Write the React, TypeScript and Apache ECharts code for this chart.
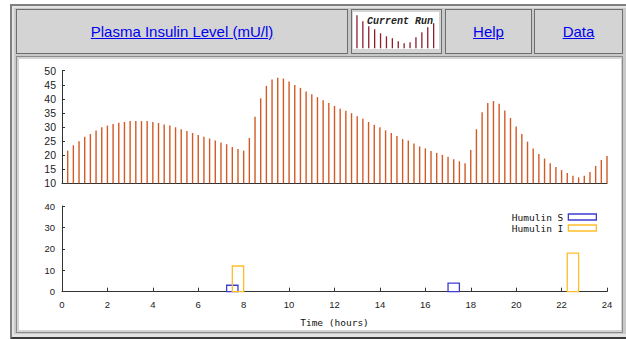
import React, { useEffect, useRef } from "react";
import * as echarts from "echarts";

// Plasma insulin level (mU/l), sampled every 15 minutes from 0:15 to 24:00
const STEP_HOURS = 0.25;
const insulinLevel = [
  21.6, 23.5, 24.9, 26.5, 27.5, 28.8, 29.9, 30.5, 31.1, 31.5,
  31.8, 32.1, 32.1, 32.1, 32.1, 31.8, 31.4, 30.9, 30.5, 29.9,
  29.2, 28.6, 27.9, 27.2, 26.5, 25.9, 25.2, 24.5, 23.9, 22.9,
  22.2, 21.6, 26.1, 33.6, 40.2, 44.6, 46.9, 47.5, 47.2, 46.2,
  44.9, 43.9, 42.6, 41.6, 40.6, 39.5, 38.5, 37.5, 36.5, 35.8,
  34.9, 33.8, 32.9, 31.8, 30.8, 29.9, 28.8, 27.9, 26.8, 25.7,
  25.2, 24.1, 23.1, 22.4, 21.5, 20.8, 20.1, 19.4, 18.5, 17.8,
  17.1, 21.8, 29.2, 35.2, 38.5, 39.2, 38.3, 35.9, 33.2, 30.2,
  27.5, 24.8, 22.4, 20.4, 18.8, 17.1, 15.8, 14.7, 13.7, 12.7,
  12.1, 12.7, 14.0, 16.2, 18.3, 19.7,
];

// Insulin doses: [time (hours), units]
const humulinS = [
  [7.5, 3],
  [17.25, 4],
];
const humulinI = [
  [7.75, 12],
  [22.5, 18],
];
const DOSE_WIDTH = 0.5;

const doseNames = ["Humulin S", "Humulin I"];
const headerTitle = "Plasma Insulin Level (mU/l)";
const headerLinks = ["Help", "Data"];
const xAxisName = "Time (hours)";
const thumbTitle = "Current Run";
const thumbBars = [33, 27, 22, 19, 15, 12, 10, 7, 5, 6, 11, 16, 21, 25];

const BLUE = "#3c3cd2";
const YELLOW = "#ffbe28";
const BAR = "#d25a26";
const AXIS = "#333333";
const SANS = "'Liberation Sans', Arial, sans-serif";
const MONO = "'DejaVu Sans Mono', 'Liberation Mono', monospace";

function doseRenderer(color: string) {
  return (_params: any, api: any) => {
    const t = api.value(0);
    const d = api.value(1);
    const a = api.coord([t - DOSE_WIDTH / 2, 0]);
    const b = api.coord([t + DOSE_WIDTH / 2, d]);
    return {
      type: "rect",
      shape: { x: a[0], y: b[1], width: b[0] - a[0], height: a[1] - b[1] },
      style: { fill: "none", stroke: color, lineWidth: 1.3 },
    };
  };
}

function MainChart() {
  const ref = useRef<HTMLDivElement>(null);
  useEffect(() => {
    if (!ref.current) return;
    const chart = echarts.init(ref.current, null, { renderer: "svg" });
    const levelData = insulinLevel.map((v, i) => [(i + 1) * STEP_HOURS, v]);
    chart.setOption({
      animation: false,
      backgroundColor: "#ffffff",
      grid: [
        { left: 43, top: 11.7, width: 545, height: 112.6 },
        { left: 43, top: 147, width: 545, height: 85.7 },
      ],
      xAxis: [
        {
          type: "value",
          gridIndex: 0,
          min: 0,
          max: 24,
          interval: 2,
          axisLine: { lineStyle: { color: AXIS, width: 1 } },
          axisTick: { show: false },
          axisLabel: { show: false },
          splitLine: { show: false },
        },
        {
          type: "value",
          gridIndex: 1,
          min: 0,
          max: 24,
          interval: 2,
          axisLine: { onZero: false, lineStyle: { color: AXIS, width: 1 } },
          axisTick: { inside: true, length: 4, lineStyle: { color: AXIS } },
          axisLabel: { margin: 8, fontFamily: SANS, fontSize: 9.5, color: "#222" },
          splitLine: { show: false },
          name: xAxisName,
          nameLocation: "middle",
          nameGap: 26,
          nameTextStyle: { fontFamily: MONO, fontSize: 9.5, color: "#111" },
        },
      ],
      yAxis: [
        {
          type: "value",
          gridIndex: 0,
          min: 10,
          max: 50,
          interval: 5,
          axisLine: { show: true, lineStyle: { color: AXIS, width: 1 } },
          axisTick: { show: true, inside: true, length: 3, lineStyle: { color: AXIS } },
          axisLabel: { margin: 6, fontFamily: SANS, fontSize: 10.5, color: "#222" },
          splitLine: { show: false },
        },
        {
          type: "value",
          gridIndex: 1,
          min: 0,
          max: 40,
          interval: 10,
          axisLine: { show: true, lineStyle: { color: AXIS, width: 1 } },
          axisTick: { show: true, inside: true, length: 3, lineStyle: { color: AXIS } },
          axisLabel: { margin: 7, fontFamily: SANS, fontSize: 9.5, color: "#222" },
          splitLine: { show: false },
        },
      ],
      legend: {
        orient: "vertical",
        align: "right",
        right: 19,
        top: 148,
        itemWidth: 28,
        itemHeight: 6,
        itemGap: 1,
        textStyle: { fontFamily: MONO, fontSize: 9.5, color: "#111" },
        data: [
          {
            name: doseNames[0],
            icon: "rect",
            itemStyle: { color: "rgba(0,0,0,0)", borderColor: BLUE, borderWidth: 1.3 },
          },
          {
            name: doseNames[1],
            icon: "rect",
            itemStyle: { color: "rgba(0,0,0,0)", borderColor: YELLOW, borderWidth: 1.3 },
          },
        ],
      },
      series: [
        {
          type: "bar",
          xAxisIndex: 0,
          yAxisIndex: 0,
          data: levelData,
          barWidth: 1.4,
          itemStyle: { color: BAR },
        },
        {
          type: "custom",
          name: doseNames[0],
          xAxisIndex: 1,
          yAxisIndex: 1,
          data: humulinS,
          encode: { x: 0, y: 1 },
          itemStyle: { color: BLUE },
          renderItem: doseRenderer(BLUE),
        },
        {
          type: "custom",
          name: doseNames[1],
          xAxisIndex: 1,
          yAxisIndex: 1,
          data: humulinI,
          encode: { x: 0, y: 1 },
          itemStyle: { color: YELLOW },
          renderItem: doseRenderer(YELLOW),
        },
      ],
    });
    return () => chart.dispose();
  }, []);
  return (
    <div
      ref={ref}
      style={{ position: "absolute", left: 19, top: 59, width: 602, height: 271, background: "#fff" }}
    />
  );
}

function ThumbChart() {
  const ref = useRef<HTMLDivElement>(null);
  useEffect(() => {
    if (!ref.current) return;
    const chart = echarts.init(ref.current, null, { renderer: "svg" });
    chart.setOption({
      animation: false,
      backgroundColor: "#ffffff",
      title: {
        text: thumbTitle,
        left: 14,
        top: 4,
        padding: 0,
        textStyle: {
          fontFamily: "'Liberation Mono', 'Courier New', monospace",
          fontSize: 10,
          fontWeight: "bold",
          fontStyle: "italic",
          color: "#222",
        },
      },
      grid: { left: 1, top: 0, width: 82.6, height: 36.3 },
      xAxis: {
        type: "category",
        data: thumbBars.map((_, i) => String(i)),
        show: false,
      },
      yAxis: { type: "value", min: 0, max: 36.3, show: false },
      series: [
        {
          type: "bar",
          data: thumbBars,
          barWidth: 1.3,
          itemStyle: { color: "#8c1e2e" },
        },
      ],
    });
    return () => chart.dispose();
  }, []);
  return (
    <div
      ref={ref}
      style={{ position: "absolute", left: 353, top: 12, width: 86, height: 37, background: "#fff" }}
    />
  );
}

const cellBase: React.CSSProperties = {
  position: "absolute",
  boxSizing: "border-box",
  top: 9,
  height: 45,
  border: "1px solid #6e6e6e",
  background: "#d4d4d4",
  display: "flex",
  alignItems: "center",
  justifyContent: "center",
};

const linkStyle: React.CSSProperties = {
  color: "#0000ee",
  textDecoration: "underline",
  fontFamily: SANS,
  fontSize: 15,
};

export default function App() {
  return (
    <div
      style={{
        position: "absolute",
        left: 0,
        top: 0,
        width: 626,
        height: 339,
        overflow: "hidden",
        background: "#ffffff",
      }}
    >
      <div
        style={{
          position: "absolute",
          left: 10,
          top: 4,
          width: 640,
          height: 331,
          background: "#c9c9c9",
          borderTop: "2px solid #808080",
          borderLeft: "2px solid #808080",
          borderBottom: "3px solid #3a3a3a",
          boxShadow: "inset 2px 2px 0 #e4e4e4, inset 0 -3px 0 #e4e4e4",
        }}
      />
      <div style={{ ...cellBase, left: 16, width: 332 }}>
        <a href="#" style={linkStyle}>{headerTitle}</a>
      </div>
      <div style={{ ...cellBase, left: 351, width: 91 }} />
      <ThumbChart />
      <div style={{ ...cellBase, left: 445, width: 87 }}>
        <a href="#" style={linkStyle}>{headerLinks[0]}</a>
      </div>
      <div style={{ ...cellBase, left: 534, width: 89 }}>
        <a href="#" style={linkStyle}>{headerLinks[1]}</a>
      </div>
      <div
        style={{
          position: "absolute",
          boxSizing: "border-box",
          left: 16,
          top: 56,
          width: 607,
          height: 277,
          border: "1px solid #8a8a8a",
          background: "#d4d4d4",
        }}
      />
      <MainChart />
    </div>
  );
}
